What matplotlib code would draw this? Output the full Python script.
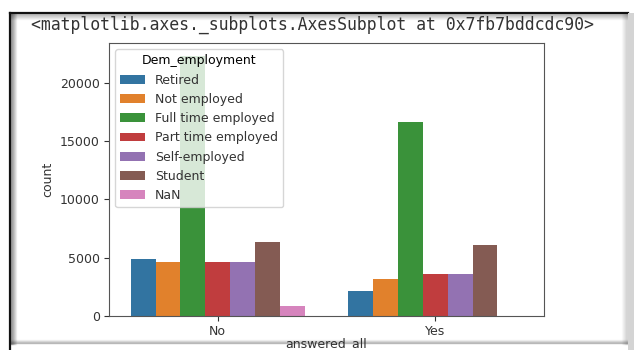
import numpy as np
import matplotlib
matplotlib.use("Agg")
import matplotlib.pyplot as plt
from matplotlib.patches import Rectangle
from matplotlib.lines import Line2D

# counts per answered_all group, one list per employment level
groups = ["No", "Yes"]
levels = ["Retired", "Not employed", "Full time employed", "Part time employed",
          "Self-employed", "Student", "NaN"]
count_no = [4860, 4630, 22300, 4630, 4630, 6350, 860]
count_yes = [2170, 3150, 16600, 3580, 3580, 6120, 0]

# tab10 at seaborn's 0.75 saturation
colors = ["#3274a1", "#e1812c", "#3a923a", "#c03d3e", "#9372b2", "#845b53", "#d684bd"]

W, H = 634, 350
fig = plt.figure(figsize=(W / 100, H / 100), dpi=100)
fig.patch.set_facecolor("white")

def fx(px):
    return px / W

def fy(py):
    return 1 - py / H

def fline(xs, ys, **kw):
    fig.add_artist(Line2D(xs, ys, zorder=0, **kw))

# notebook cell frame with a soft inner shadow
for i, a in enumerate(np.linspace(0.35, 0.0, 7)):
    fline([fx(11 + i), fx(11 + i)], [fy(14), fy(344)], color="black", alpha=a, lw=1)
    fline([fx(11), fx(627)], [fy(14 + i), fy(14 + i)], color="black", alpha=a * 0.6, lw=1)
    fline([fx(627 - i), fx(627 - i)], [fy(14), fy(344)], color="black", alpha=a * 0.4, lw=1)
for i, a in enumerate(np.linspace(0.05, 0.25, 4)):
    fline([fx(11), fx(628)], [fy(340 + i), fy(340 + i)], color="black", alpha=a, lw=1)
fline([fx(10), fx(10)], [0, fy(13)], color="#111111", lw=1.6)
fline([fx(10), fx(628)], [fy(13), fy(13)], color="#111111", lw=1.6)
fig.add_artist(Rectangle((fx(628), 0), fx(6), fy(13), color="#d4d4d4", lw=0, zorder=0))

fig.text(fx(31), fy(25), "<matplotlib.axes._subplots.AxesSubplot at 0x7fb7bddcdc90>",
         family="DejaVu Sans Mono", fontsize=11.9, color="#333333", va="center", ha="left")

ax = fig.add_axes([fx(109), fy(316), (544 - 109) / W, (316 - 43) / H])
ax.set_zorder(1)

n = len(levels)
width = 0.8 / n
x = np.arange(len(groups))
for i, lev in enumerate(levels):
    vals = [count_no[i], count_yes[i]]
    ax.bar(x - 0.4 + width * (i + 0.5), vals, width=width, color=colors[i], label=lev)

ax.set_xlim(-0.5, 1.5)
ax.set_ylim(0, max(count_no + count_yes) * 1.05)
ax.set_xticks(x)
ax.set_xticklabels(groups)
ax.set_yticks([0, 5000, 10000, 15000, 20000])
ax.tick_params(labelsize=9, colors="#333333", labelcolor="#333333", pad=3)
for s in ax.spines.values():
    s.set_color("#555555")
ax.set_ylabel("count", fontsize=9, color="#333333")
ax.set_xlabel("answered_all", fontsize=9, color="#333333", labelpad=-1)
ax.legend(title="Dem_employment", loc="upper left", fontsize=9, title_fontsize=9,
          labelcolor="#333333")

fig.savefig("out.png", dpi=100)
